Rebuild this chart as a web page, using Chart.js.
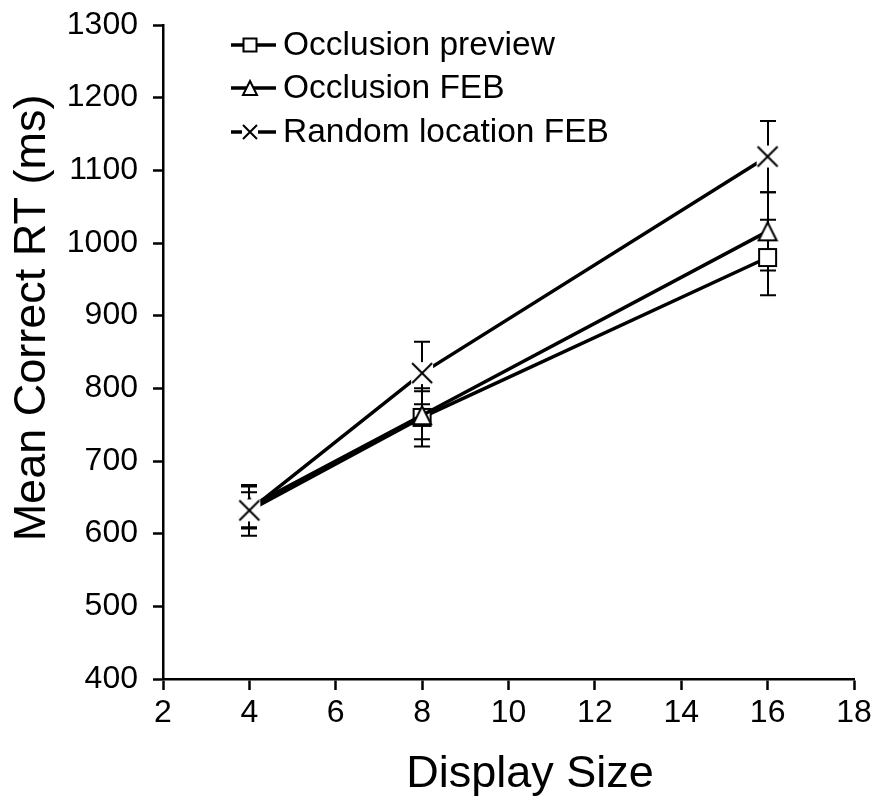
<!DOCTYPE html>
<html><head><meta charset="utf-8">
<script src="https://cdn.jsdelivr.net/npm/chart.js@4.4.1/dist/chart.umd.min.js"></script>
<style>html,body{margin:0;padding:0;background:#fff;}#wrap{width:877px;height:807px;}</style>
</head><body><div id="wrap"><canvas id="c" width="877" height="807"></canvas></div>
<script>
const displaySizes = [4, 8, 16];
const seriesNames = ['Occlusion preview', 'Occlusion FEB', 'Random location FEB'];
const occlusionPreview = [632, 760, 980];
const occlusionPreviewErr = [25, 40, 52];
const occlusionFEB = [637, 763, 1016];
const occlusionFEBErr = [28, 33, 54];
const randomLocationFEB = [632, 821, 1119];
const randomLocationFEBErr = [35, 43, 49];
const xTicks = [2, 4, 6, 8, 10, 12, 14, 16, 18];
const yTicks = [400, 500, 600, 700, 800, 900, 1000, 1100, 1200, 1300];
const xTitle = 'Display Size';
const yTitle = 'Mean Correct RT (ms)';

const FONT = '"Liberation Sans", Arial, sans-serif';

function makeMarker(kind, size) {
  const s = Math.ceil(size) + 4;
  const c = document.createElement('canvas');
  c.width = s; c.height = s;
  const g = c.getContext('2d');
  const m = s / 2, h = size / 2;
  g.lineWidth = 2; g.strokeStyle = '#000'; g.fillStyle = '#fff';
  if (kind === 'square') {
    g.fillRect(m - h, m - h, size, size);
    g.strokeRect(m - h, m - h, size, size);
  } else if (kind === 'triangle') {
    g.beginPath();
    g.moveTo(m, m - h); g.lineTo(m + h, m + h); g.lineTo(m - h, m + h); g.closePath();
    g.fill(); g.stroke();
  } else {
    g.fillRect(m - h, m - h, size, size);
    g.beginPath();
    g.moveTo(m - h + 1, m - h + 1); g.lineTo(m + h - 1, m + h - 1);
    g.moveTo(m + h - 1, m - h + 1); g.lineTo(m - h + 1, m + h - 1);
    g.stroke();
  }
  return c;
}
const markers = [makeMarker('square', 17), makeMarker('triangle', 18), makeMarker('x', 22)];
const legendMarkers = [makeMarker('square', 13), makeMarker('triangle', 14), makeMarker('x', 16)];

const values = [occlusionPreview, occlusionFEB, randomLocationFEB];
const errors = [occlusionPreviewErr, occlusionFEBErr, randomLocationFEBErr];

const datasets = values.map((vals, i) => ({
  label: seriesNames[i],
  data: displaySizes.map((x, j) => ({x: x, y: vals[j]})),
  order: values.length - 1 - i,
  borderColor: '#000',
  borderWidth: 3.5,
  pointStyle: markers[i],
  pointRadius: 10,
  tension: 0,
  fill: false
}));

const errorBars = {
  id: 'errorBars',
  beforeDatasetsDraw(chart) {
    const ctx = chart.ctx, xs = chart.scales.x, ys = chart.scales.y;
    ctx.save();
    ctx.strokeStyle = '#000'; ctx.lineWidth = 2;
    values.forEach((vals, i) => {
      displaySizes.forEach((x, j) => {
        const px = Math.round(xs.getPixelForValue(x));
        const top = ys.getPixelForValue(vals[j] + errors[i][j]);
        const bot = ys.getPixelForValue(vals[j] - errors[i][j]);
        ctx.beginPath();
        ctx.moveTo(px, top); ctx.lineTo(px, bot);
        ctx.moveTo(px - 8, top); ctx.lineTo(px + 8, top);
        ctx.moveTo(px - 8, bot); ctx.lineTo(px + 8, bot);
        ctx.stroke();
      });
    });
    ctx.restore();
  }
};

const extras = {
  id: 'extras',
  afterDraw(chart) {
    const ctx = chart.ctx;
    ctx.save();
    ctx.fillStyle = '#000';
    ctx.font = '45px ' + FONT;
    ctx.textAlign = 'center'; ctx.textBaseline = 'middle';
    ctx.fillText(xTitle, 530, 775);
    ctx.save();
    ctx.translate(33, 318); ctx.rotate(-Math.PI / 2);
    ctx.fillText(yTitle, 0, 0);
    ctx.restore();
    // legend
    ctx.font = '33.5px ' + FONT;
    ctx.textAlign = 'left';
    const rows = [45, 88, 132];
    seriesNames.forEach((name, i) => {
      const y = rows[i];
      ctx.strokeStyle = '#000'; ctx.lineWidth = 3.5;
      ctx.beginPath(); ctx.moveTo(231, y); ctx.lineTo(276, y); ctx.stroke();
      const mk = legendMarkers[i];
      ctx.drawImage(mk, 250 - mk.width / 2, y - mk.height / 2);
      ctx.fillText(name, 283, y + 1);
    });
    ctx.restore();
  }
};

new Chart(document.getElementById('c'), {
  type: 'line',
  data: { datasets: datasets },
  options: {
    responsive: false,
    animation: false,
    devicePixelRatio: 1,
    layout: { padding: { left: 0, top: 25, right: 23, bottom: 0 } },
    plugins: { legend: { display: false }, tooltip: { enabled: false } },
    scales: {
      x: {
        type: 'linear', min: 2, max: 18,
        afterBuildTicks: (s) => { s.ticks = xTicks.map(v => ({value: v})); },
        afterFit: (s) => { s.height = 128; s.paddingLeft = 0; s.paddingRight = 0; },
        ticks: { color: '#000', font: { size: 32, family: FONT }, padding: 4, maxRotation: 0, callback: (v) => String(v) },
        grid: { drawOnChartArea: false, drawTicks: true, tickLength: 11, tickWidth: 2.5, tickColor: '#000' },
        border: { display: true, color: '#000', width: 2.5 }
      },
      y: {
        type: 'linear', min: 400, max: 1300,
        afterBuildTicks: (s) => { s.ticks = yTicks.map(v => ({value: v})); },
        afterFit: (s) => { s.width = 163; s.paddingTop = 0; s.paddingBottom = 0; },
        ticks: { color: '#000', font: { size: 32, family: FONT }, padding: 15, callback: (v) => String(v) },
        grid: { drawOnChartArea: false, drawTicks: true, tickLength: 10, tickWidth: 2.5, tickColor: '#000' },
        border: { display: true, color: '#000', width: 2.5 }
      }
    }
  },
  plugins: [errorBars, extras]
});
</script></body></html>
